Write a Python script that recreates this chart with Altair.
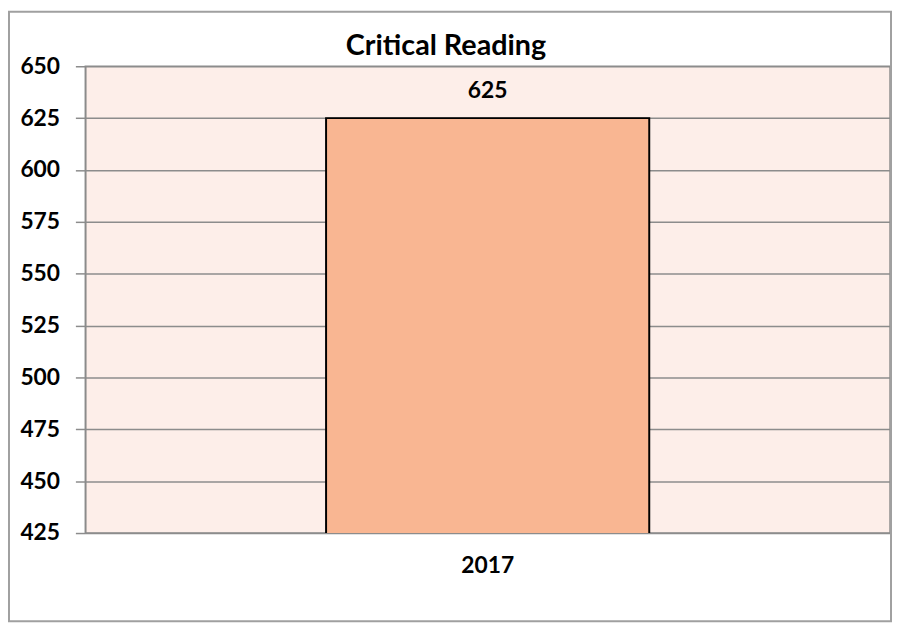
import altair as alt
import pandas as pd

title_text = "Critical Reading"
years = ["2017"]
scores = [625]
y_ticks = [425, 450, 475, 500, 525, 550, 575, 600, 625, 650]

df = pd.DataFrame({"year": years, "score": scores})

W, H = 812, 471
FONT = "Lato"
GRAY = "#8c8c8c"

base = alt.Chart(df)

bars = base.mark_bar(color="#F9B692", stroke="black", strokeWidth=2, clip=True).encode(
    x=alt.X("year:N", title=None,
            scale=alt.Scale(paddingInner=0, paddingOuter=0.745),
            axis=alt.Axis(labelAngle=0, labelFont=FONT, labelFontSize=23, labelFontWeight="bold",
                          labelColor="black", ticks=False, domain=False, labelPadding=22)),
    y=alt.Y("score:Q", title=None,
            scale=alt.Scale(domain=[425, 650], zero=False, nice=False),
            axis=alt.Axis(values=y_ticks, labelFont=FONT, labelFontSize=23, labelFontWeight="bold",
                          labelColor="black", tickColor=GRAY, tickSize=10, tickWidth=1.5,
                          gridColor=GRAY, gridWidth=1.5, domainColor=GRAY, domainWidth=1.5,
                          labelPadding=16)),
)

labels = base.mark_text(font=FONT, fontSize=23, fontWeight="bold", color="black",
                        baseline="middle", dy=-27).encode(
    x="year:N", y="score:Q", text="score:Q")

title = base.mark_text(font=FONT, fontSize=29, fontWeight="bold", color="black",
                       align="center", baseline="alphabetic").encode(
    x=alt.value(364), y=alt.value(-11), text=alt.value(title_text))

frame = base.mark_rect(fill=None, stroke="#a0a0a0", strokeWidth=2).encode(
    x=alt.value(-77), x2=alt.value(W + 1), y=alt.value(-55), y2=alt.value(H + 89))

chart = alt.layer(bars, labels, title, frame).properties(
    width=W, height=H,
    autosize=alt.AutoSizeParams(type="none"),
    padding={"left": 78, "top": 56, "right": 2, "bottom": 90},
    background="white",
).configure_view(fill="#FDEEE9", stroke=GRAY, strokeWidth=1.5)

chart.save("out.html", embed_options={"renderer": "svg", "actions": False})
